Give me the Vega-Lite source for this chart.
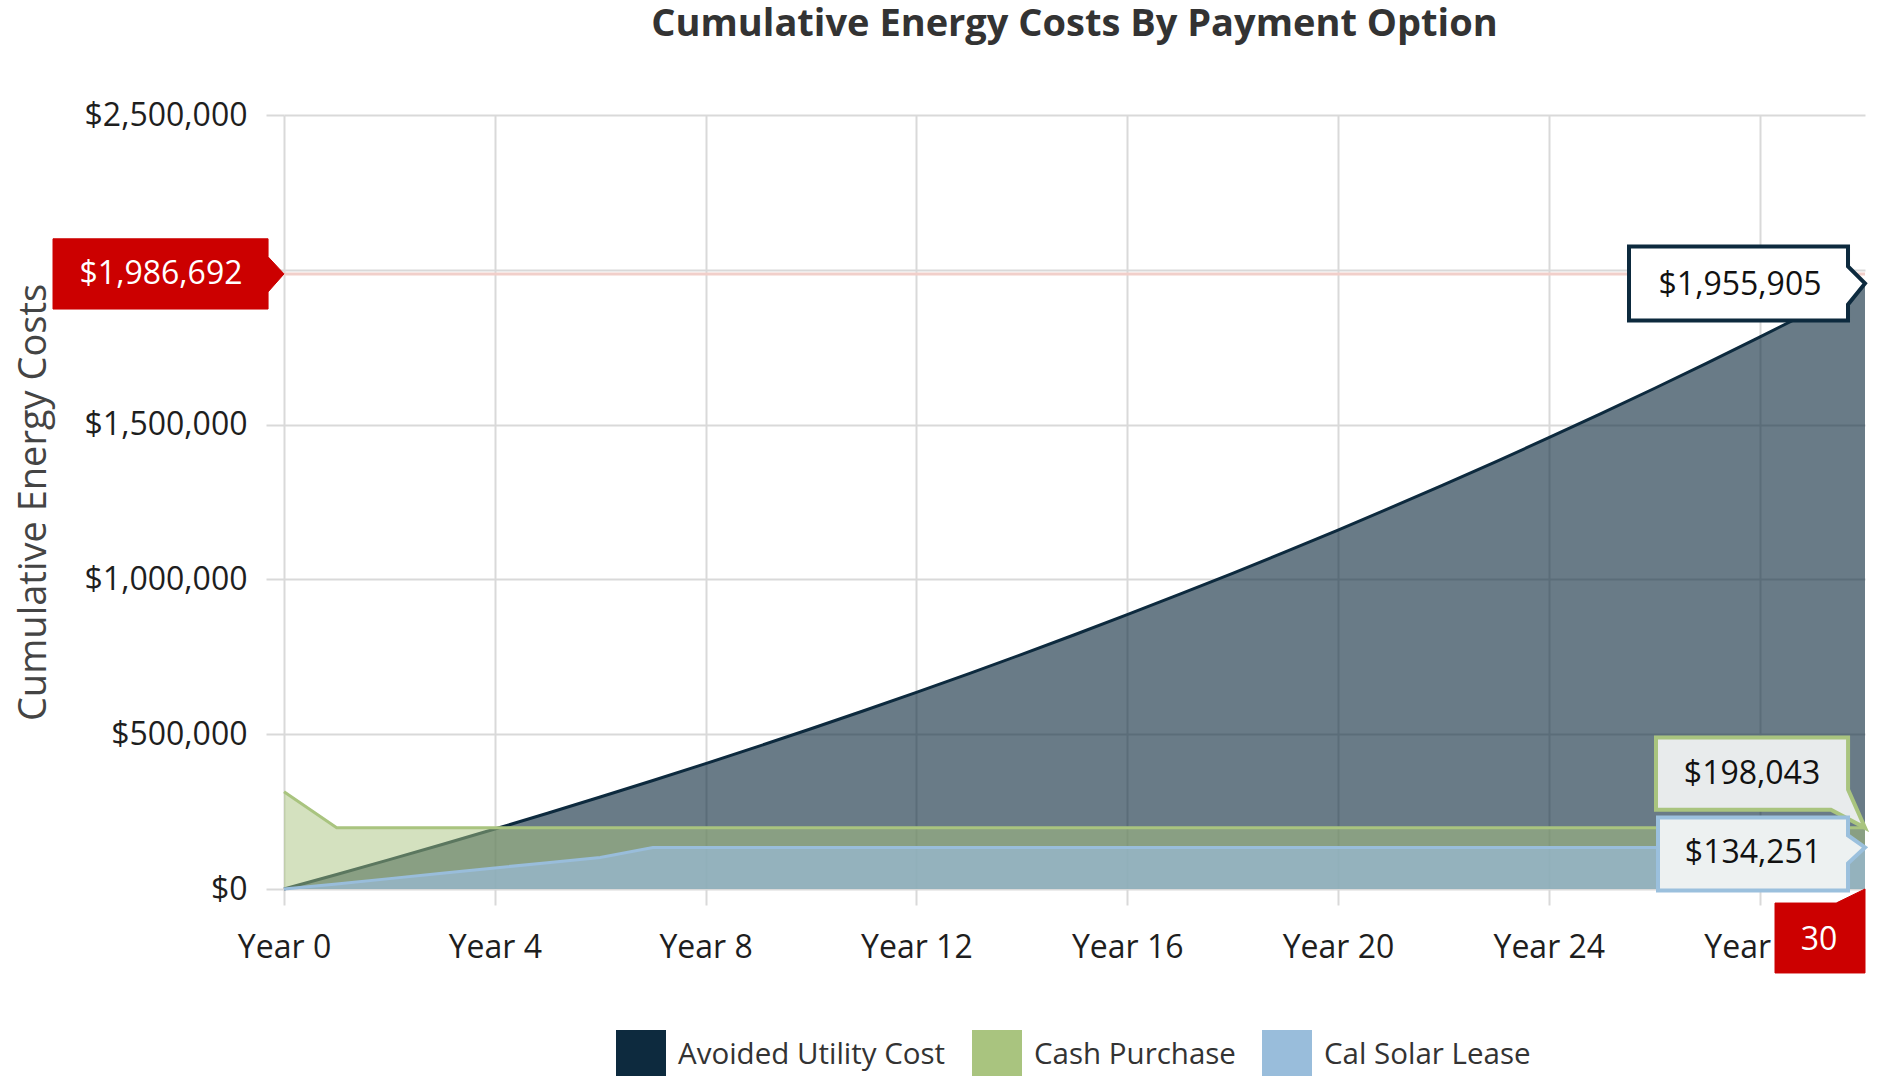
{
  "$schema": "https://vega.github.io/schema/vega-lite/v6.json",
  "width": 1581,
  "height": 774,
  "autosize": {"type": "none"},
  "padding": {"left": 284, "top": 115, "right": 16, "bottom": 187},
  "background": "white",
  "title": {
    "text": "Cumulative Energy Costs By Payment Option",
    "fontSize": 38,
    "font": "Open Sans",
    "fontWeight": "bold",
    "color": "#333333",
    "anchor": "middle",
    "frame": "group",
    "baseline": "alphabetic",
    "offset": 25
  },
  "datasets": {
    "main": [
      {"year": 0, "series": "Avoided Utility Cost", "value": 0},
      {"year": 1, "series": "Avoided Utility Cost", "value": 46870},
      {"year": 2, "series": "Avoided Utility Cost", "value": 94762},
      {"year": 3, "series": "Avoided Utility Cost", "value": 143698},
      {"year": 4, "series": "Avoided Utility Cost", "value": 193701},
      {"year": 5, "series": "Avoided Utility Cost", "value": 244794},
      {"year": 6, "series": "Avoided Utility Cost", "value": 297001},
      {"year": 7, "series": "Avoided Utility Cost", "value": 350346},
      {"year": 8, "series": "Avoided Utility Cost", "value": 404854},
      {"year": 9, "series": "Avoided Utility Cost", "value": 460550},
      {"year": 10, "series": "Avoided Utility Cost", "value": 517460},
      {"year": 11, "series": "Avoided Utility Cost", "value": 575611},
      {"year": 12, "series": "Avoided Utility Cost", "value": 635030},
      {"year": 13, "series": "Avoided Utility Cost", "value": 695744},
      {"year": 14, "series": "Avoided Utility Cost", "value": 757782},
      {"year": 15, "series": "Avoided Utility Cost", "value": 821172},
      {"year": 16, "series": "Avoided Utility Cost", "value": 885944},
      {"year": 17, "series": "Avoided Utility Cost", "value": 952128},
      {"year": 18, "series": "Avoided Utility Cost", "value": 1019755},
      {"year": 19, "series": "Avoided Utility Cost", "value": 1088856},
      {"year": 20, "series": "Avoided Utility Cost", "value": 1159464},
      {"year": 21, "series": "Avoided Utility Cost", "value": 1231611},
      {"year": 22, "series": "Avoided Utility Cost", "value": 1305331},
      {"year": 23, "series": "Avoided Utility Cost", "value": 1380658},
      {"year": 24, "series": "Avoided Utility Cost", "value": 1457627},
      {"year": 25, "series": "Avoided Utility Cost", "value": 1536274},
      {"year": 26, "series": "Avoided Utility Cost", "value": 1616635},
      {"year": 27, "series": "Avoided Utility Cost", "value": 1698748},
      {"year": 28, "series": "Avoided Utility Cost", "value": 1782651},
      {"year": 29, "series": "Avoided Utility Cost", "value": 1868383},
      {"year": 30, "series": "Avoided Utility Cost", "value": 1955905},
      {"year": 0, "series": "Cash Purchase", "value": 314000},
      {"year": 1, "series": "Cash Purchase", "value": 198043},
      {"year": 2, "series": "Cash Purchase", "value": 198043},
      {"year": 3, "series": "Cash Purchase", "value": 198043},
      {"year": 4, "series": "Cash Purchase", "value": 198043},
      {"year": 5, "series": "Cash Purchase", "value": 198043},
      {"year": 6, "series": "Cash Purchase", "value": 198043},
      {"year": 7, "series": "Cash Purchase", "value": 198043},
      {"year": 8, "series": "Cash Purchase", "value": 198043},
      {"year": 9, "series": "Cash Purchase", "value": 198043},
      {"year": 10, "series": "Cash Purchase", "value": 198043},
      {"year": 11, "series": "Cash Purchase", "value": 198043},
      {"year": 12, "series": "Cash Purchase", "value": 198043},
      {"year": 13, "series": "Cash Purchase", "value": 198043},
      {"year": 14, "series": "Cash Purchase", "value": 198043},
      {"year": 15, "series": "Cash Purchase", "value": 198043},
      {"year": 16, "series": "Cash Purchase", "value": 198043},
      {"year": 17, "series": "Cash Purchase", "value": 198043},
      {"year": 18, "series": "Cash Purchase", "value": 198043},
      {"year": 19, "series": "Cash Purchase", "value": 198043},
      {"year": 20, "series": "Cash Purchase", "value": 198043},
      {"year": 21, "series": "Cash Purchase", "value": 198043},
      {"year": 22, "series": "Cash Purchase", "value": 198043},
      {"year": 23, "series": "Cash Purchase", "value": 198043},
      {"year": 24, "series": "Cash Purchase", "value": 198043},
      {"year": 25, "series": "Cash Purchase", "value": 198043},
      {"year": 26, "series": "Cash Purchase", "value": 198043},
      {"year": 27, "series": "Cash Purchase", "value": 198043},
      {"year": 28, "series": "Cash Purchase", "value": 198043},
      {"year": 29, "series": "Cash Purchase", "value": 198043},
      {"year": 30, "series": "Cash Purchase", "value": 198043},
      {"year": 0, "series": "Cal Solar Lease", "value": 0},
      {"year": 1, "series": "Cal Solar Lease", "value": 16500},
      {"year": 2, "series": "Cal Solar Lease", "value": 33500},
      {"year": 3, "series": "Cal Solar Lease", "value": 50500},
      {"year": 4, "series": "Cal Solar Lease", "value": 68000},
      {"year": 5, "series": "Cal Solar Lease", "value": 85000},
      {"year": 6, "series": "Cal Solar Lease", "value": 102000},
      {"year": 7, "series": "Cal Solar Lease", "value": 134251},
      {"year": 8, "series": "Cal Solar Lease", "value": 134251},
      {"year": 9, "series": "Cal Solar Lease", "value": 134251},
      {"year": 10, "series": "Cal Solar Lease", "value": 134251},
      {"year": 11, "series": "Cal Solar Lease", "value": 134251},
      {"year": 12, "series": "Cal Solar Lease", "value": 134251},
      {"year": 13, "series": "Cal Solar Lease", "value": 134251},
      {"year": 14, "series": "Cal Solar Lease", "value": 134251},
      {"year": 15, "series": "Cal Solar Lease", "value": 134251},
      {"year": 16, "series": "Cal Solar Lease", "value": 134251},
      {"year": 17, "series": "Cal Solar Lease", "value": 134251},
      {"year": 18, "series": "Cal Solar Lease", "value": 134251},
      {"year": 19, "series": "Cal Solar Lease", "value": 134251},
      {"year": 20, "series": "Cal Solar Lease", "value": 134251},
      {"year": 21, "series": "Cal Solar Lease", "value": 134251},
      {"year": 22, "series": "Cal Solar Lease", "value": 134251},
      {"year": 23, "series": "Cal Solar Lease", "value": 134251},
      {"year": 24, "series": "Cal Solar Lease", "value": 134251},
      {"year": 25, "series": "Cal Solar Lease", "value": 134251},
      {"year": 26, "series": "Cal Solar Lease", "value": 134251},
      {"year": 27, "series": "Cal Solar Lease", "value": 134251},
      {"year": 28, "series": "Cal Solar Lease", "value": 134251},
      {"year": 29, "series": "Cal Solar Lease", "value": 134251},
      {"year": 30, "series": "Cal Solar Lease", "value": 134251}
    ]
  },
  "layer": [
    {
      "data": {"name": "main"},
      "transform": [{"filter": "datum.series === 'Avoided Utility Cost'"}],
      "mark": {"type": "area", "fillOpacity": 0.62, "line": {"strokeWidth": 3}},
      "encoding": {
        "x": {
          "field": "year", "type": "quantitative",
          "scale": {"domain": [0, 30], "nice": false, "zero": false},
          "axis": {
            "values": [0, 4, 8, 12, 16, 20, 24, 28],
            "labelExpr": "'Year ' + datum.value",
            "title": null,
            "grid": true,
            "domain": false,
            "ticks": true,
            "tickSize": 16,
            "tickWidth": 2,
            "tickColor": "#d9d9d9",
            "gridColor": "#d9d9d9",
            "gridWidth": 2,
            "labelPadding": 27,
            "labelFontSize": 32,
            "labelColor": "#1e1e1e",
            "labelFlush": false,
            "labelOverlap": false
          }
        },
        "y": {
          "field": "value", "type": "quantitative",
          "scale": {"domain": [0, 2500000], "nice": false},
          "axis": {
            "values": [0, 500000, 1000000, 1500000, 2000000, 2500000],
            "format": "$,.0f",
            "title": "Cumulative Energy Costs",
            "titleFontSize": 38,
            "titleFontWeight": "normal",
            "titleColor": "#444444",
            "titleX": -250,
            "titleY": 387,
            "titleAngle": -90,
            "titleAlign": "center",
            "titleBaseline": "middle",
            "grid": true,
            "domain": false,
            "tickSize": 18,
            "tickWidth": 2,
            "tickColor": "#d9d9d9",
            "gridColor": "#d9d9d9",
            "gridWidth": 2,
            "labelPadding": 19,
            "labelFontSize": 32,
            "labelColor": "#1e1e1e",
            "labelFlush": false,
            "labelOverlap": false
          }
        },
        "color": {
          "field": "series", "type": "nominal",
          "scale": {"domain": ["Avoided Utility Cost", "Cash Purchase", "Cal Solar Lease"], "range": ["#0d2a3e", "#a9c47f", "#99bddb"]},
          "legend": {
            "orient": "none",
            "legendX": 332,
            "legendY": 915,
            "direction": "horizontal",
            "title": null,
            "symbolType": "square",
            "symbolSize": 2500,
            "symbolOpacity": 1,
            "symbolStrokeWidth": 0,
            "labelFontSize": 29.5,
            "labelColor": "#333333",
            "labelOffset": 12,
            "columnPadding": 26,
            "padding": 0,
            "labelLimit": 500
          }
        }
      }
    },
    {
      "data": {"name": "main"},
      "transform": [{"filter": "datum.series === 'Cash Purchase'"}],
      "mark": {"type": "area", "fillOpacity": 0.5, "line": {"strokeWidth": 3}},
      "encoding": {
        "x": {"field": "year", "type": "quantitative"},
        "y": {"field": "value", "type": "quantitative"},
        "color": {"field": "series", "type": "nominal"}
      }
    },
    {
      "data": {"name": "main"},
      "transform": [{"filter": "datum.series === 'Cal Solar Lease'"}],
      "mark": {"type": "area", "fillOpacity": 0.65, "line": {"strokeWidth": 3}},
      "encoding": {
        "x": {"field": "year", "type": "quantitative"},
        "y": {"field": "value", "type": "quantitative"},
        "color": {"field": "series", "type": "nominal"}
      }
    },
    {
      "data": {"values": [{"value": 1986692}]},
      "mark": {"type": "rule", "color": "#f1cfca", "strokeWidth": 3},
      "encoding": {"y": {"field": "value", "type": "quantitative"}}
    },
    {
      "data": {"values": [{"year": 0, "value": 1986692, "label": "$1,986,692"}]},
      "layer": [
        {
          "mark": {"type": "point", "shape": "M-1,-0.152L-0.069,-0.152L-0.069,-0.074L0,0L-0.069,0.078L-0.069,0.152L-1,0.152Z", "size": 213444, "filled": true, "fill": "#cc0000", "stroke": "#cc0000", "strokeWidth": 1, "opacity": 1, "fillOpacity": 1},
          "encoding": {"x": {"field": "year", "type": "quantitative"}, "y": {"field": "value", "type": "quantitative"}}
        },
        {
          "mark": {"type": "text", "dx": -123, "dy": 0, "align": "center", "baseline": "middle", "fontSize": 32, "color": "#ffffff"},
          "encoding": {"x": {"field": "year", "type": "quantitative"}, "y": {"field": "value", "type": "quantitative"}, "text": {"field": "label"}}
        }
      ]
    },
    {
      "data": {"values": [{"year": 30, "value": 1955905, "label": "$1,955,905"}]},
      "layer": [
        {
          "mark": {"type": "point", "shape": "M-1,-0.157L-0.072,-0.157L-0.072,-0.072L0,0L-0.072,0.089L-0.072,0.157L-1,0.157Z", "size": 222784, "filled": true, "fill": "#ffffff", "stroke": "#0d2a3e", "strokeWidth": 4, "opacity": 1, "fillOpacity": 1},
          "encoding": {"x": {"field": "year", "type": "quantitative"}, "y": {"field": "value", "type": "quantitative"}}
        },
        {
          "mark": {"type": "text", "dx": -125, "dy": 2, "align": "center", "baseline": "middle", "fontSize": 32, "color": "#111111"},
          "encoding": {"x": {"field": "year", "type": "quantitative"}, "y": {"field": "value", "type": "quantitative"}, "text": {"field": "label"}}
        }
      ]
    },
    {
      "data": {"values": [{"year": 30, "value": 198043, "label": "$198,043"}]},
      "layer": [
        {
          "mark": {"type": "point", "shape": "M-1,-0.431L-0.081,-0.431L-0.081,-0.182L0,0L-0.163,-0.086L-1,-0.086Z", "size": 174724, "filled": true, "fill": "#e8ebec", "stroke": "#a9c47f", "strokeWidth": 4, "opacity": 1, "fillOpacity": 1},
          "encoding": {"x": {"field": "year", "type": "quantitative"}, "y": {"field": "value", "type": "quantitative"}}
        },
        {
          "mark": {"type": "text", "dx": -113, "dy": -54, "align": "center", "baseline": "middle", "fontSize": 32, "color": "#111111"},
          "encoding": {"x": {"field": "year", "type": "quantitative"}, "y": {"field": "value", "type": "quantitative"}, "text": {"field": "label"}}
        }
      ]
    },
    {
      "data": {"values": [{"year": 30, "value": 134251, "label": "$134,251"}]},
      "layer": [
        {
          "mark": {"type": "point", "shape": "M-1,-0.145L-0.082,-0.145L-0.082,-0.058L0,0L-0.082,0.077L-0.082,0.208L-1,0.208Z", "size": 171396, "filled": true, "fill": "#edf1f1", "stroke": "#9bc0dd", "strokeWidth": 4, "opacity": 1, "fillOpacity": 1},
          "encoding": {"x": {"field": "year", "type": "quantitative"}, "y": {"field": "value", "type": "quantitative"}}
        },
        {
          "mark": {"type": "text", "dx": -112, "dy": 6, "align": "center", "baseline": "middle", "fontSize": 32, "color": "#111111"},
          "encoding": {"x": {"field": "year", "type": "quantitative"}, "y": {"field": "value", "type": "quantitative"}, "text": {"field": "label"}}
        }
      ]
    },
    {
      "data": {"values": [{"year": 30, "value": 0, "label": "30"}]},
      "layer": [
        {
          "mark": {"type": "point", "shape": "M-1,0.156L-0.32,0.156L0,0L0,0.933L-1,0.933Z", "size": 32400, "filled": true, "fill": "#cc0000", "stroke": "#cc0000", "strokeWidth": 1, "opacity": 1, "fillOpacity": 1},
          "encoding": {"x": {"field": "year", "type": "quantitative"}, "y": {"field": "value", "type": "quantitative"}}
        },
        {
          "mark": {"type": "text", "dx": -46, "dy": 51, "align": "center", "baseline": "middle", "fontSize": 32, "color": "#ffffff"},
          "encoding": {"x": {"field": "year", "type": "quantitative"}, "y": {"field": "value", "type": "quantitative"}, "text": {"field": "label"}}
        }
      ]
    }
  ],
  "config": {
    "font": "Open Sans",
    "view": {"stroke": null},
    "axis": {"labelFont": "Open Sans", "titleFont": "Open Sans"},
    "legend": {"labelFont": "Open Sans"},
    "text": {"font": "Open Sans"}
  }
}
